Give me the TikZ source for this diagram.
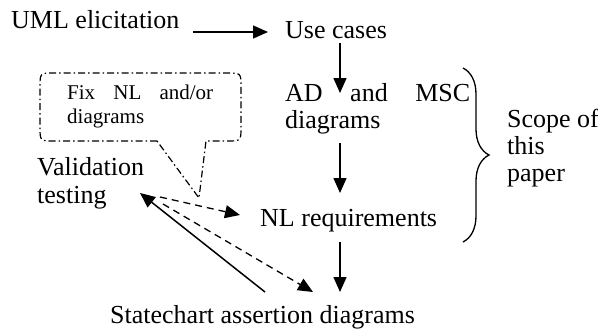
\documentclass[tikz,border=0pt]{standalone}
\usepackage{fontspec}
\setmainfont{Liberation Serif}
\usetikzlibrary{arrows.meta,decorations.pathreplacing}

\begin{document}
\begin{tikzpicture}[x=1pt,y=-1pt,
  lbl/.style={inner sep=0pt, anchor=base west, font=\fontsize{26}{27}\selectfont, align=left},
  flow/.style={line width=1.5pt, -{Triangle[length=15pt,width=13pt]}},
  back/.style={flow, dash pattern=on 7pt off 5pt, line width=1.3pt},
  note/.style={line width=1.2pt, dash pattern=on 7pt off 3pt on 1.5pt off 3pt}]
\useasboundingbox (0,0) rectangle (598,333);

% process steps (multi-line nodes sit on the baseline of their last line)
\node[lbl] (uml) at (11,28) {UML elicitation};
\node[lbl] (use) at (285,38) {Use cases};
\node[lbl] (ad) at (285,128) {\makebox[185pt][s]{AD and MSC}\\diagrams};
\node[lbl] (nl) at (260,226) {NL requirements};
\node[lbl] (sc) at (110,323) {Statechart assertion diagrams};
\node[lbl, font=\fontsize{26}{28}\selectfont] (val) at (37,203) {Validation\\testing};
\node[lbl] (scope) at (507,181) {Scope of\\this\\paper};
\node[lbl, font=\fontsize{21}{24}\selectfont] (fix) at (67,123) {\makebox[146pt][s]{Fix NL and/or}\\diagrams};

% connector ends
\coordinate (umlR) at (193,32);  \coordinate (useL) at (268,32);
\coordinate (useB) at (340,43);  \coordinate (adT)  at (340,93);
\coordinate (adB)  at (340,143); \coordinate (nlT)  at (340,193);
\coordinate (nlB)  at (340,242); \coordinate (scT)  at (340,292);
\coordinate (scL)  at (265,292); \coordinate (valR) at (140,193);
\coordinate (valA) at (160,197); \coordinate (nlL)  at (240,215);
\coordinate (valB) at (163,204); \coordinate (scM)  at (313,292);

% main flow
\draw[flow] (umlR) -- (useL);
\draw[flow] (useB) -- (adT);
\draw[flow] (adB) -- (nlT);
\draw[flow] (nlB) -- (scT);
\draw[flow] (scL) -- (valR);
\draw[back] (valA) -- (nlL);
\draw[back] (valB) -- (scM);

% callout bubble
\draw[note] (157,141) -- (54,141) .. controls (40,141) .. (40,127) -- (40,87)
  .. controls (40,73) .. (54,73) -- (227,73) .. controls (241,73) .. (241,87)
  -- (241,127) .. controls (241,141) .. (227,141) -- (206,141) -- (199,198) -- cycle;

% scope brace
\draw[line width=1.3pt, decorate, decoration={brace, amplitude=26pt}] (463,68) -- (463,242);
\end{tikzpicture}
\end{document}
